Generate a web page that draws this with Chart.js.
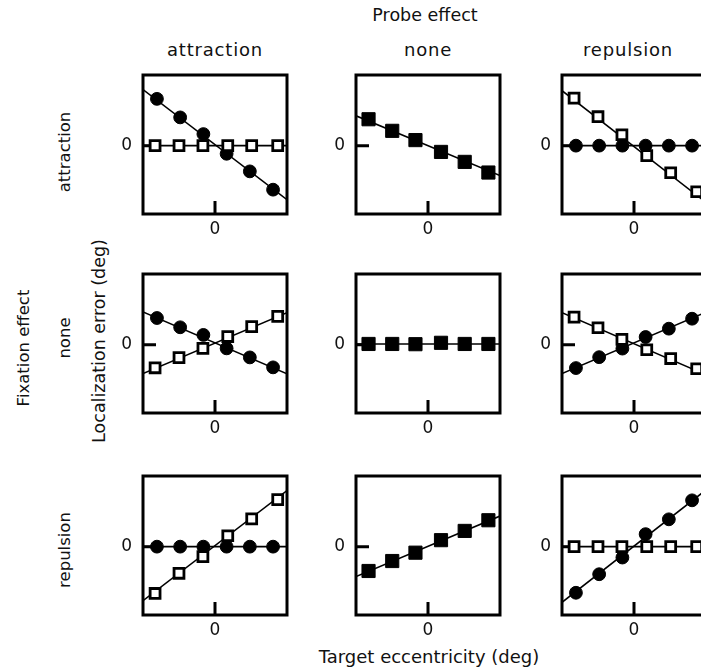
<!DOCTYPE html>
<html><head><meta charset="utf-8">
<script src="https://cdn.jsdelivr.net/npm/chart.js@4/dist/chart.umd.min.js"></script>
<style>
html,body{margin:0;padding:0;width:701px;height:671px;overflow:hidden;background:#fff;}
.lbl{position:absolute;white-space:nowrap;color:#111;transform:translate(-50%,-50%);line-height:1;}
.rot{transform:translate(-50%,-50%) rotate(-90deg);}
canvas{position:absolute;}
</style></head><body>
<script>
// ---------- data ----------
const probeEffects = ['attraction', 'none', 'repulsion'];
const fixationEffects = ['attraction', 'none', 'repulsion'];
const xTickLabels = ['0'];
const yTickLabels = ['0'];

// target eccentricities (x) of each marker type
const xCircle = [-2.5, -1.5, -0.5, 0.5, 1.5, 2.5];
const xSquare = [-2.58, -1.55, -0.52, 0.55, 1.58, 2.7];
const xFilled = [-2.56, -1.54, -0.54, 0.56, 1.58, 2.6];
const xFitEnds = [-3.1, 3.1];

// localization errors (y), circles = filled circles, squares = open squares, filled = filled squares
const fixAttr_probeAttr_circle = [2.02, 1.22, 0.50, -0.35, -1.11, -1.90];
const fixAttr_probeAttr_square = [0, 0, 0, 0, 0, 0];
const fixAttr_probeNone_filled = [1.14, 0.64, 0.24, -0.27, -0.70, -1.16];
const fixAttr_probeRep_circle  = [0, 0, 0, 0, 0, 0];
const fixAttr_probeRep_square  = [2.05, 1.25, 0.47, -0.43, -1.17, -1.99];

const fixNone_probeAttr_circle = [1.15, 0.75, 0.42, -0.16, -0.55, -0.98];
const fixNone_probeAttr_square = [-1.0, -0.56, -0.16, 0.35, 0.78, 1.22];
const fixNone_probeNone_filled = [0.03, 0.03, 0.02, 0.08, 0.03, 0.03];
const fixNone_probeRep_circle  = [-1.01, -0.54, -0.17, 0.33, 0.69, 1.12];
const fixNone_probeRep_square  = [1.19, 0.73, 0.23, -0.22, -0.60, -1.04];

const fixRep_probeAttr_circle  = [0, 0, 0, 0, 0, 0];
const fixRep_probeAttr_square  = [-2.02, -1.15, -0.43, 0.47, 1.20, 2.03];
const fixRep_probeNone_filled  = [-1.05, -0.62, -0.26, 0.28, 0.68, 1.14];
const fixRep_probeRep_circle   = [-1.99, -1.19, -0.47, 0.54, 1.18, 2.0];
const fixRep_probeRep_square   = [0, 0, 0, 0, 0, 0];

// fitted lines: y at the left and right panel edges
const fit_fixAttr_probeAttr_circle = [2.42, -2.33];
const fit_fixAttr_probeAttr_square = [0, 0];
const fit_fixAttr_probeNone_filled = [1.29, -1.29];
const fit_fixAttr_probeRep_circle  = [0, 0];
const fit_fixAttr_probeRep_square  = [2.37, -2.45];
const fit_fixNone_probeAttr_circle = [1.41, -1.26];
const fit_fixNone_probeAttr_square = [-1.25, 1.38];
const fit_fixNone_probeNone_filled = [0.03, 0.03];
const fit_fixNone_probeRep_circle  = [-1.25, 1.40];
const fit_fixNone_probeRep_square  = [1.38, -1.30];
const fit_fixRep_probeAttr_circle  = [0, 0];
const fit_fixRep_probeAttr_square  = [-2.33, 2.42];
const fit_fixRep_probeNone_filled  = [-1.29, 1.32];
const fit_fixRep_probeRep_circle   = [-2.40, 2.45];
const fit_fixRep_probeRep_square   = [0, 0];

// ---------- layout ----------
const colLeft = [143, 356, 562];
const rowTop = [75, 274, 476];
const panelW = 144, panelH = 139;
const padL = 40, padT = 10, padR = 10, padB = 35;

const panels = [
  {r:0,c:0, circle:[fixAttr_probeAttr_circle, fit_fixAttr_probeAttr_circle], square:[fixAttr_probeAttr_square, fit_fixAttr_probeAttr_square]},
  {r:0,c:1, filled:[fixAttr_probeNone_filled, fit_fixAttr_probeNone_filled]},
  {r:0,c:2, circle:[fixAttr_probeRep_circle, fit_fixAttr_probeRep_circle], square:[fixAttr_probeRep_square, fit_fixAttr_probeRep_square]},
  {r:1,c:0, circle:[fixNone_probeAttr_circle, fit_fixNone_probeAttr_circle], square:[fixNone_probeAttr_square, fit_fixNone_probeAttr_square]},
  {r:1,c:1, filled:[fixNone_probeNone_filled, fit_fixNone_probeNone_filled]},
  {r:1,c:2, circle:[fixNone_probeRep_circle, fit_fixNone_probeRep_circle], square:[fixNone_probeRep_square, fit_fixNone_probeRep_square]},
  {r:2,c:0, circle:[fixRep_probeAttr_circle, fit_fixRep_probeAttr_circle], square:[fixRep_probeAttr_square, fit_fixRep_probeAttr_square]},
  {r:2,c:1, filled:[fixRep_probeNone_filled, fit_fixRep_probeNone_filled]},
  {r:2,c:2, circle:[fixRep_probeRep_circle, fit_fixRep_probeRep_circle], square:[fixRep_probeRep_square, fit_fixRep_probeRep_square]},
];

function addLabel(text, x, y, font, size, rotate, spacing) {
  const d = document.createElement('div');
  d.className = 'lbl' + (rotate ? ' rot' : '');
  d.textContent = text;
  d.style.left = x + 'px'; d.style.top = y + 'px';
  d.style.fontFamily = font; d.style.fontSize = size + 'px';
  if (spacing) d.style.letterSpacing = spacing + 'px';
  document.body.appendChild(d);
}

addLabel('Probe effect', 425, 16, '"DejaVu Sans"', 17.5);
const headerX = [215, 428, 628];
probeEffects.forEach((t, i) => addLabel(t, headerX[i], 50, '"DejaVu Sans"', 18, false, 0.8));
const rowLabelY = [152, 338, 550];
fixationEffects.forEach((t, i) => addLabel(t, 65, rowLabelY[i], '"DejaVu Sans"', 16.5, true));
addLabel('Fixation effect', 24, 348, '"DejaVu Sans"', 16.5, true);
addLabel('Localization error (deg)', 100, 341, '"DejaVu Sans"', 17.5, true);
addLabel('Target eccentricity (deg)', 429, 657, '"DejaVu Sans"', 18);

const framePlugin = {
  id: 'frame',
  beforeDatasetsDraw(chart) {
    const {ctx, chartArea: a, scales: {x, y}} = chart;
    const y0 = y.getPixelForValue(0), x0 = x.getPixelForValue(0);
    ctx.save();
    ctx.strokeStyle = '#000'; ctx.lineWidth = 3;
    ctx.beginPath();
    ctx.moveTo(a.left, y0); ctx.lineTo(a.left + 13, y0);
    ctx.moveTo(x0, a.bottom); ctx.lineTo(x0, a.bottom - 13);
    ctx.stroke();
    ctx.restore();
  },
  afterDraw(chart) {
    const {ctx, chartArea: a} = chart;
    ctx.save();
    ctx.strokeStyle = '#000'; ctx.lineWidth = 3;
    ctx.strokeRect(a.left, a.top, a.right - a.left, a.bottom - a.top);
    ctx.restore();
  }
};

function fitLine(ends) {
  return {data: xFitEnds.map((x, i) => ({x, y: ends[i]})), showLine: true, borderColor: '#000',
          borderWidth: 1.6, pointRadius: 0, order: 3};
}

function noScalePadding(s) {
  s.paddingTop = 0; s.paddingBottom = 0; s.paddingLeft = 0; s.paddingRight = 0;
}

panels.forEach(p => {
  const cv = document.createElement('canvas');
  const W = panelW + padL + padR, H = panelH + padT + padB;
  cv.width = W; cv.height = H;
  cv.style.width = W + 'px'; cv.style.height = H + 'px';
  cv.style.left = (colLeft[p.c] - padL) + 'px';
  cv.style.top = (rowTop[p.r] - padT) + 'px';
  document.body.appendChild(cv);
  const ds = [];
  if (p.circle) {
    ds.push(fitLine(p.circle[1]));
    ds.push({data: xCircle.map((x, i) => ({x, y: p.circle[0][i]})), pointStyle: 'circle', pointRadius: 6.4,
             backgroundColor: '#000', borderColor: '#000', borderWidth: 1, showLine: false, order: 2});
  }
  if (p.square) {
    ds.push(fitLine(p.square[1]));
    ds.push({data: xSquare.map((x, i) => ({x, y: p.square[0][i]})), pointStyle: 'rect', pointRadius: 7,
             backgroundColor: '#fff', borderColor: '#000', borderWidth: 2.8, showLine: false, order: 1});
  }
  if (p.filled) {
    ds.push(fitLine(p.filled[1]));
    ds.push({data: xFilled.map((x, i) => ({x, y: p.filled[0][i]})), pointStyle: 'rect', pointRadius: 9.3,
             backgroundColor: '#000', borderColor: '#000', borderWidth: 1, showLine: false, order: 1});
  }
  new Chart(cv, {
    type: 'scatter',
    data: {datasets: ds},
    options: {
      responsive: false, maintainAspectRatio: false, animation: false, events: [],
      layout: {autoPadding: false, padding: {left: 0, top: padT, right: padR, bottom: 0}},
      plugins: {legend: {display: false}, tooltip: {enabled: false}},
      scales: {
        x: {type: 'linear', min: -3.1, max: 3.1,
            afterBuildTicks: s => { s.ticks = [{value: 0}]; },
            afterFit: s => { s.height = padB; noScalePadding(s); },
            grid: {display: false, drawTicks: false}, border: {display: false},
            ticks: {padding: 5, color: '#111', font: {family: 'DejaVu Sans', size: 17}, callback: () => xTickLabels[0]}},
        y: {type: 'linear', min: -2.95, max: 3.05,
            afterBuildTicks: s => { s.ticks = [{value: 0}]; },
            afterFit: s => { s.width = padL; noScalePadding(s); },
            grid: {display: false, drawTicks: false}, border: {display: false},
            ticks: {padding: 11, color: '#111', font: {family: 'DejaVu Sans', size: 17}, callback: () => yTickLabels[0]}}
      }
    },
    plugins: [framePlugin]
  });
});
</script>
</body></html>
